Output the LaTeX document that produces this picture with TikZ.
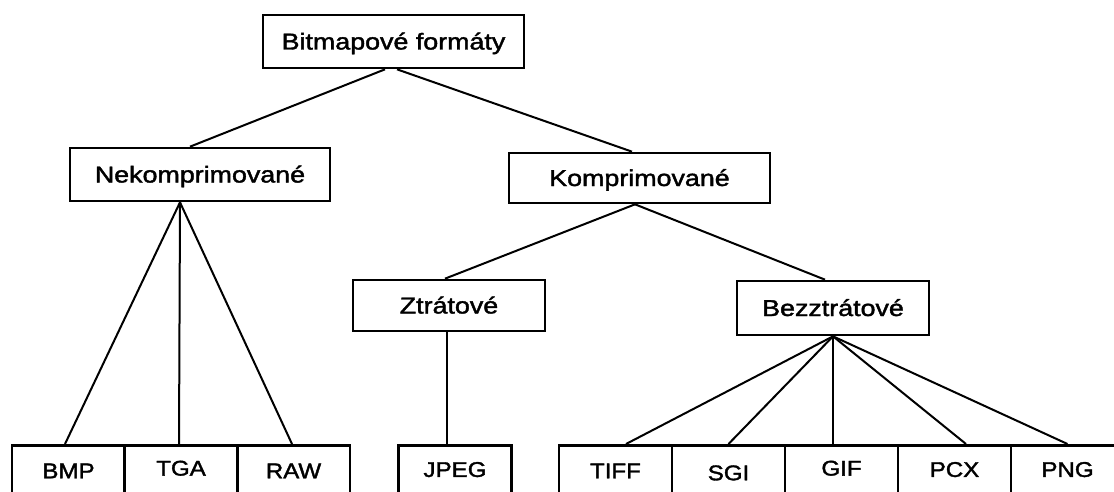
\documentclass[tikz,border=0pt]{standalone}
\usepackage{graphicx}
\usepackage{fontspec}
\setmainfont{Liberation Sans}[FakeBold=1.6]
\usetikzlibrary{calc}
\newcommand{\wideA}[1]{\scalebox{1.17}[1]{#1}}
\newcommand{\wideB}[1]{\scalebox{1.13}[1]{#1}}
\begin{document}
\begin{tikzpicture}[x=0.75pt,y=-0.75pt,
  box/.style={draw=black,line width=2pt,fill=white,inner sep=0pt,
    text height=12pt,text depth=0pt,font=\fontsize{17.2}{18}\selectfont},
  leaf/.style={draw=black,line width=2pt,anchor=north,minimum width=113*0.75pt,
    inner xsep=0pt,inner ysep=13.3pt,text height=11.4pt,text depth=0pt,
    font=\fontsize{16}{18}\selectfont},
  conn/.style={line width=1.5pt,black}]
\useasboundingbox (0,0) rectangle (1114,492);
\fill[white] (0,0) rectangle (1114,492);
% upper nodes
\node[box,minimum width=261*0.75pt,minimum height=53*0.75pt] (root) at (393.5,41.5) {\wideA{Bitmapové formáty}};
\node[box,minimum width=260*0.75pt,minimum height=53*0.75pt] (nek) at (200,174.5) {\wideA{Nekomprimované}};
\node[box,minimum width=261*0.75pt,minimum height=50*0.75pt] (komp) at (639.5,178) {\wideA{Komprimované}};
\node[box,minimum width=192*0.75pt,minimum height=51*0.75pt] (ztr) at (449,305.5) {\wideA{Ztrátové}};
\node[box,minimum width=192*0.75pt,minimum height=54*0.75pt] (bez) at (833,308) {\wideA{Bezztrátové}};
% leaves
\node[leaf] (bmp) at (68.5,444) {\wideB{BMP}};
\node[leaf] (tga) at (181,444) {\raisebox{2pt}{\wideB{TGA}}};
\node[leaf] (raw) at (293.5,444) {\wideB{RAW}};
\node[leaf] (jpeg) at (455,444) {\raisebox{1pt}{\wideB{JPEG}}};
\node[leaf] (tiff) at (615.5,444) {\wideB{TIFF}};
\node[leaf] (sgi) at (728.5,444) {\raisebox{-1.5pt}{\wideB{SGI}}};
\node[leaf] (gif) at (841.5,444) {\raisebox{2pt}{\wideB{GIF}}};
\node[leaf] (pcx) at (954.5,444) {\raisebox{1pt}{\wideB{PCX}}};
\node[leaf] (png) at (1067.5,444) {\raisebox{1pt}{\wideB{PNG}}};
% connectors
\draw[conn] ($(root.south)+(-8.5,0)$) -- ($(nek.north)+(-10,0)$);
\draw[conn] ($(root.south)+(3.5,0)$) -- ($(komp.north)+(-7.5,0)$);
\draw[conn] ($(nek.south)+(-20,0)$) -- ($(bmp.north)+(-3.5,0)$);
\draw[conn] ($(nek.south)+(-20,0)$) -- ($(tga.north)+(-2,0)$);
\draw[conn] ($(nek.south)+(-20,0)$) -- ($(raw.north)+(-1.5,0)$);
\draw[conn] ($(komp.south)+(-4.5,0)$) -- ($(ztr.north)+(-4,0)$);
\draw[conn] ($(komp.south)+(-4.5,0)$) -- ($(bez.north)+(-8,0)$);
\draw[conn] ($(ztr.south)+(-2,0)$) -- ($(jpeg.north)+(-8,0)$);
\draw[conn] (bez.south) -- ($(tiff.north)+(10.5,0)$);
\draw[conn] (bez.south) -- (sgi.north);
\draw[conn] (bez.south) -- ($(gif.north)+(-8.5,0)$);
\draw[conn] (bez.south) -- ($(pcx.north)+(11.5,0)$);
\draw[conn] (bez.south) -- (png.north);
\end{tikzpicture}
\end{document}
